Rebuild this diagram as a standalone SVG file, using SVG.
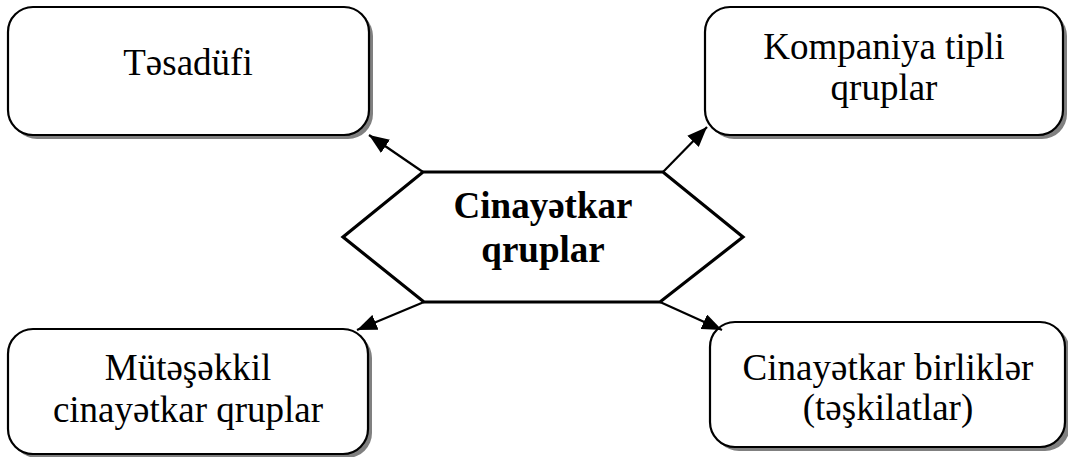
<svg xmlns="http://www.w3.org/2000/svg" width="1068" height="457" viewBox="0 0 1068 457">
<defs>
<style>
.box{fill:#fff;stroke:#000;stroke-width:2.2}
.shadow{fill:#808080;stroke:none}
.t{font-family:"Liberation Serif","Times New Roman",serif;font-size:37px;text-anchor:middle;fill:#000}
.b{font-weight:bold}
.conn{stroke:#000;stroke-width:2.2;fill:none;marker-end:url(#ah)}
</style>
<marker id="ah" markerUnits="userSpaceOnUse" markerWidth="22" markerHeight="16" refX="20" refY="8" orient="auto">
<path d="M0,0 L20,8 L0,16 Z" fill="#000"/>
</marker>
</defs>
<rect width="1068" height="457" fill="#fff"/>
<g id="node-tesadufi">
<rect class="shadow" x="12" y="11" width="361" height="128" rx="25"/>
<rect class="box" x="8" y="7" width="361" height="128" rx="25"/>
<text class="t" x="188" y="75">Təsadüfi</text>
</g>
<g id="node-kompaniya">
<rect class="shadow" x="709" y="11" width="358" height="128" rx="25"/>
<rect class="box" x="705" y="7" width="358" height="128" rx="25"/>
<text class="t" x="884" y="59">Kompaniya tipli</text>
<text class="t" x="884" y="100">qruplar</text>
</g>
<g id="node-mutesekkil">
<rect class="shadow" x="12" y="333" width="360" height="125" rx="25"/>
<rect class="box" x="8" y="329" width="360" height="125" rx="25"/>
<text class="t" x="188" y="380">Mütəşəkkil</text>
<text class="t" x="188" y="422">cinayətkar qruplar</text>
</g>
<g id="node-birlikler">
<rect class="shadow" x="714" y="326" width="356" height="125" rx="25"/>
<rect class="box" x="710" y="322" width="355" height="125" rx="25"/>
<text class="t" x="888" y="380">Cinayətkar birliklər</text>
<text class="t" x="888" y="420">(təşkilatlar)</text>
</g>
<g id="node-center">
<polygon points="423,172 663,172 743,237 660,302 424,302 343,237" fill="#fff" stroke="#000" stroke-width="3.2" stroke-linejoin="miter"/>
<text class="t b" x="543" y="218">Cinayətkar</text>
<text class="t b" x="543" y="262">qruplar</text>
</g>
<g id="connectors">
<line class="conn" x1="423" y1="172" x2="369" y2="135"/>
<line class="conn" x1="663" y1="172" x2="707" y2="127"/>
<line class="conn" x1="424" y1="302" x2="357" y2="330"/>
<line class="conn" x1="660" y1="302" x2="722" y2="330"/>
</g>
</svg>
